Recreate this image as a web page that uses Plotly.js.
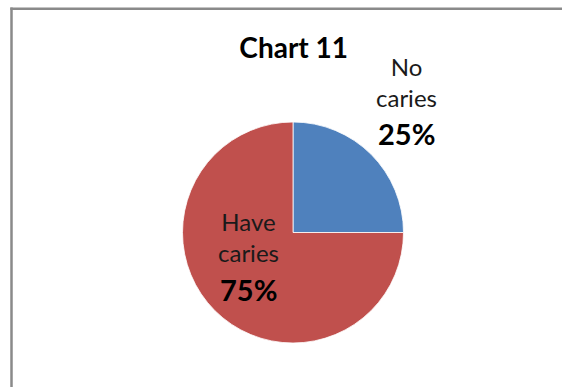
<!DOCTYPE html>
<html>
<head>
<meta charset="utf-8">
<script src="https://cdn.plot.ly/plotly-3.0.1.min.js"></script>
<style>html,body{margin:0;padding:0;background:#fff;}#chart{width:562px;height:387px;}</style>
</head>
<body>
<div id="chart"></div>
<script>
const categories = ["No caries", "Have caries"];
const values = [25, 75];
const colors = ["#4F81BD", "#C0504D"];
const chartTitle = "Chart 11";

// label block positions (pixels from top-left), layout only
const labelPos = [
  {x: 406, yName: 82, yPct: 133},
  {x: 248, yName: 236.5, yPct: 289.5}
];

const W = 562, H = 387;
const total = values.reduce((a, b) => a + b, 0);

const trace = {
  type: "pie",
  labels: categories,
  values: values,
  sort: false,
  direction: "clockwise",
  rotation: 0,
  marker: {colors: colors, line: {color: "#ffffff", width: 0.8}},
  textinfo: "none",
  automargin: false,
  hoverinfo: "none",
  domain: {x: [182.5/W, 403.5/W], y: [44/H, 265/H]}
};

const annotations = [];
categories.forEach((c, i) => {
  const p = labelPos[i];
  annotations.push({
    xref: "paper", yref: "paper", x: p.x / W, y: 1 - p.yName / H,
    xanchor: "center", yanchor: "middle", showarrow: false,
    text: c.split(" ").join("<br>"),
    font: {family: "Lato, sans-serif", size: 24, color: "#1a1a1a"}
  });
  annotations.push({
    xref: "paper", yref: "paper", x: p.x / W, y: 1 - p.yPct / H,
    xanchor: "center", yanchor: "middle", showarrow: false,
    text: "<b>" + Math.round(values[i] / total * 100) + "%</b>",
    font: {family: "Lato, sans-serif", size: 29, color: "#000"}
  });
});

const layout = {
  width: W, height: H,
  margin: {l: 0, r: 0, t: 0, b: 0},
  paper_bgcolor: "#fff",
  showlegend: false,
  title: {
    text: "<b>" + chartTitle + "</b>",
    font: {family: "Lato, sans-serif", size: 28, color: "#000"},
    x: 293.7/W, xanchor: "center", xref: "paper",
    y: 1 - 48.5/H, yanchor: "middle", yref: "container"
  },
  annotations: annotations,
  shapes: [
    {type: "line", xref: "paper", yref: "paper", x0: 11.5/W, x1: 11.5/W, y0: 1 - 7.5/H, y1: -0.1, line: {color: "#8a8a8a", width: 2.5}},
    {type: "line", xref: "paper", yref: "paper", x0: 10.3/W, x1: 1.1, y0: 1 - 8.7/H, y1: 1 - 8.7/H, line: {color: "#8a8a8a", width: 2.5}}
  ]
};

Plotly.newPlot("chart", [trace], layout, {displayModeBar: false, staticPlot: true});
</script>
</body>
</html>
